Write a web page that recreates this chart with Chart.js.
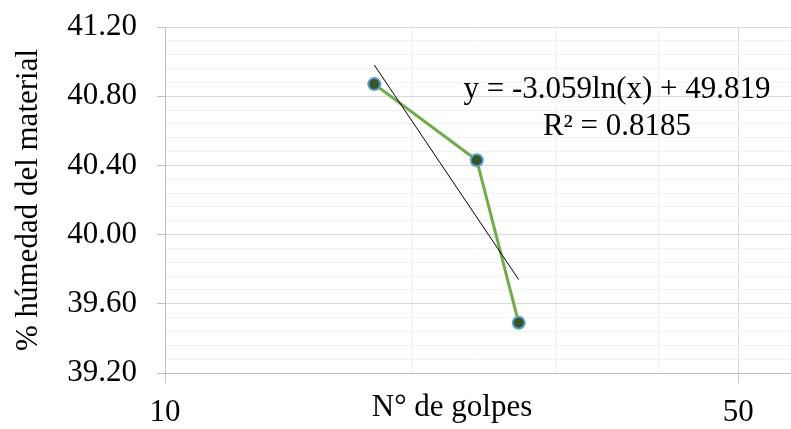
<!DOCTYPE html>
<html>
<head>
<meta charset="utf-8">
<script src="https://cdn.jsdelivr.net/npm/chart.js@4/dist/chart.umd.min.js"></script>
<style>
html,body{margin:0;padding:0;background:#fff;}
#wrap{width:791px;height:429px;position:relative;}
</style>
</head>
<body>
<div id="wrap"><canvas id="c" width="791" height="429"></canvas></div>
<script>
// ---- data ----
const golpes = [18, 24, 27];
const humedad = [40.87, 40.43, 39.49];
const trendX = [18, 27];
const trendY = [40.98, 39.74];
const xTickValues = [10, 20, 30, 40, 50];
const xTickLabels = ['10', '', '', '', '50'];
const yMin = 39.2, yMax = 41.2, yMinorStep = 0.08, yMajorStep = 0.4;
const xMin = 10, xMax = 58;
const equationLines = ['y = -3.059ln(x) + 49.819', 'R\u00b2 = 0.8185'];
const xTitle = 'N\u00b0 de golpes';
const yTitle = '% h\u00famedad del material';

const FONT = '"Liberation Serif", "Times New Roman", serif';
const FSIZE = 31;

function isMajorY(v) {
  const r = v / yMajorStep;
  return Math.abs(r - Math.round(r)) < 1e-6;
}

const textPlugin = {
  id: 'extraTexts',
  afterDraw(chart) {
    const ctx = chart.ctx;
    const a = chart.chartArea;
    ctx.save();
    ctx.font = FSIZE + 'px ' + FONT;
    ctx.fillStyle = '#000';
    ctx.textAlign = 'center';
    ctx.textBaseline = 'alphabetic';
    ctx.fillText(equationLines[0], a.left + 452, a.top + 71);
    ctx.fillText(equationLines[1], a.left + 452, a.top + 108);
    ctx.fillText(xTitle, a.left + 287, a.bottom + 43);
    ctx.restore();
  }
};

new Chart(document.getElementById('c'), {
  type: 'scatter',
  data: {
    datasets: [
      {
        label: 'Tendencia',
        data: trendX.map((x, i) => ({x: x, y: trendY[i]})),
        showLine: true,
        borderColor: '#000000',
        borderWidth: 1,
        pointRadius: 0,
        order: 0
      },
      {
        label: '% humedad',
        data: golpes.map((x, i) => ({x: x, y: humedad[i]})),
        showLine: true,
        borderColor: '#70AD47',
        borderWidth: 3,
        pointRadius: 6,
        pointBackgroundColor: '#375623',
        pointBorderColor: '#5B9BD5',
        pointBorderWidth: 2,
        order: 1
      }
    ]
  },
  options: {
    responsive: false,
    animation: false,
    devicePixelRatio: 1,
    layout: {autoPadding: false, padding: {top: 27, right: 0, bottom: 0, left: 0}},
    plugins: {legend: {display: false}, tooltip: {enabled: false}},
    scales: {
      x: {
        type: 'logarithmic',
        min: xMin,
        max: xMax,
        afterBuildTicks: (s) => { s.ticks = xTickValues.map(v => ({value: v})); },
        afterFit: (s) => { s.height = 56; s.paddingLeft = 0; s.paddingRight = 0; },
        border: {color: '#bfbfbf', width: 1},
        grid: {
          color: (c) => (c.tick && c.tick.value === 50) ? '#d9d9d9' : '#f0f0f0',
          tickColor: (c) => (c.tick && (c.tick.value === 10 || c.tick.value === 50)) ? '#bfbfbf' : 'rgba(0,0,0,0)',
          tickLength: 10,
          lineWidth: 1
        },
        ticks: {
          autoSkip: false,
          maxRotation: 0,
          padding: 11,
          color: '#000',
          font: {family: FONT, size: FSIZE},
          callback: function(v) {
            const i = xTickValues.indexOf(v);
            return i >= 0 ? xTickLabels[i] : '';
          }
        },
        title: {display: false}
      },
      y: {
        min: yMin,
        max: yMax,
        afterFit: (s) => { s.width = 165; s.paddingTop = 0; s.paddingBottom = 0; },
        border: {color: '#bfbfbf', width: 1},
        grid: {
          color: (c) => (c.tick && isMajorY(c.tick.value)) ? '#d9d9d9' : '#f2f2f2',
          tickColor: (c) => (c.tick && isMajorY(c.tick.value)) ? '#bfbfbf' : 'rgba(0,0,0,0)',
          tickLength: 8,
          lineWidth: 1
        },
        ticks: {
          stepSize: yMinorStep,
          autoSkip: false,
          padding: 20,
          color: '#000',
          font: {family: FONT, size: FSIZE},
          callback: (v) => isMajorY(v) ? Number(v).toFixed(2) : ''
        },
        title: {
          display: true,
          text: yTitle,
          color: '#000',
          font: {family: FONT, size: FSIZE},
          padding: {top: 10, bottom: 0}
        }
      }
    }
  },
  plugins: [textPlugin]
});
</script>
</body>
</html>
